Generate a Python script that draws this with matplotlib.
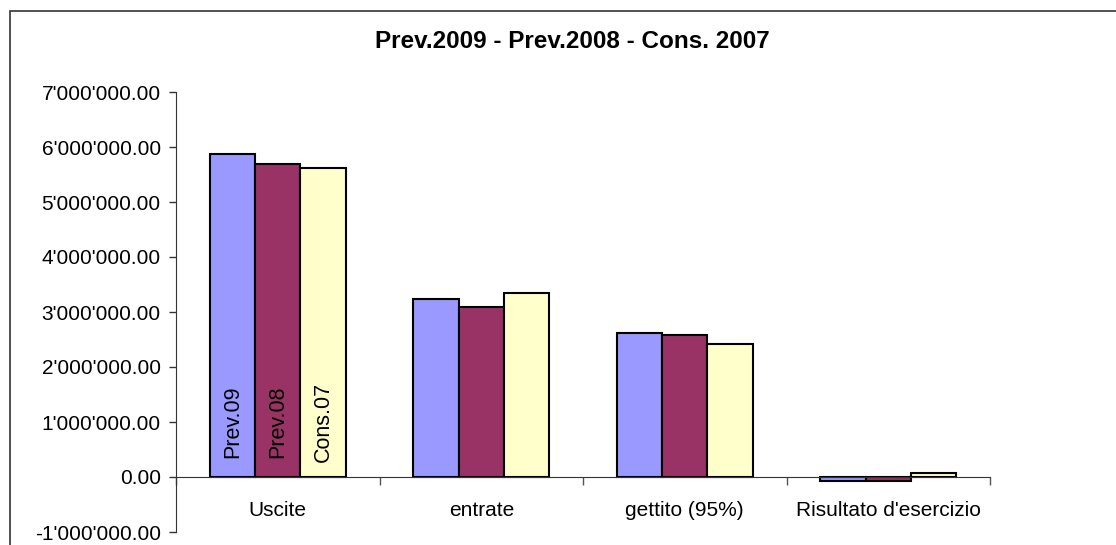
import matplotlib
matplotlib.use("Agg")
import matplotlib.pyplot as plt
from matplotlib.patches import Rectangle
import numpy as np

plt.rcParams['font.family'] = ['Liberation Sans', 'DejaVu Sans']

# dati
categorie = ["Uscite", "entrate", "gettito (95%)", "Risultato d'esercizio"]
serie = ["Prev.09", "Prev.08", "Cons.07"]
prev09 = [5870000, 3230000, 2620000, -80000]
prev08 = [5690000, 3090000, 2580000, -80000]
cons07 = [5620000, 3340000, 2410000, 80000]
colori = ["#9999FF", "#993366", "#FFFFCC"]

fs = 15

fig = plt.figure(figsize=(11.16, 5.45), dpi=100)
W, H = 1116, 545
ax = fig.add_axes([176 / W, (H - 532) / H, (990 - 176) / W, (532 - 92) / H])

# cornice esterna del grafico
fig.patches.append(Rectangle((10 / W, -0.2), 1.2, (H - 11) / H + 0.2,
                             transform=fig.transFigure, fill=False,
                             edgecolor="#333333", linewidth=1.2))

x = np.arange(len(categorie))
w = 1 / 4.5
valori = [prev09, prev08, cons07]
for i, (vals, col, nome) in enumerate(zip(valori, colori, serie)):
    pos = x + (i - 1) * w
    ax.bar(pos, vals, width=w, color=col, edgecolor="black", linewidth=1.5)
    # etichetta dentro la prima barra
    ax.text(pos[0], 1000000, nome, rotation=90, ha="center", va="center", fontsize=15.5)

ax.set_xlim(-0.5, len(categorie) - 0.5)
ax.set_ylim(-1000000, 7000000)

yt = np.arange(-1000000, 7000001, 1000000)
ax.set_yticks(yt)
ax.set_yticklabels([f"{v:,.2f}".replace(",", "'") for v in yt])

ax.set_xticks(np.arange(len(categorie) + 1) - 0.5)
ax.set_xticklabels([])
ax.set_xticks(x, minor=True)
ax.set_xticklabels(categorie, minor=True)
ax.tick_params(axis="x", which="minor", length=0, pad=17, labelsize=fs)
ax.tick_params(axis="x", which="major", length=6, width=1, color="#555555")
ax.tick_params(axis="y", length=5, width=1, pad=6, color="#333333", labelsize=fs)

ax.spines["top"].set_visible(False)
ax.spines["right"].set_visible(False)
ax.spines["bottom"].set_position(("data", 0))
ax.spines["bottom"].set_color("#333333")
ax.spines["left"].set_color("#333333")

fig.text(572 / W, (H - 42) / H, "Prev.2009 - Prev.2008 - Cons. 2007",
         ha="center", va="center", fontsize=17.5, fontweight="bold")

fig.savefig("out.png", dpi=100)
